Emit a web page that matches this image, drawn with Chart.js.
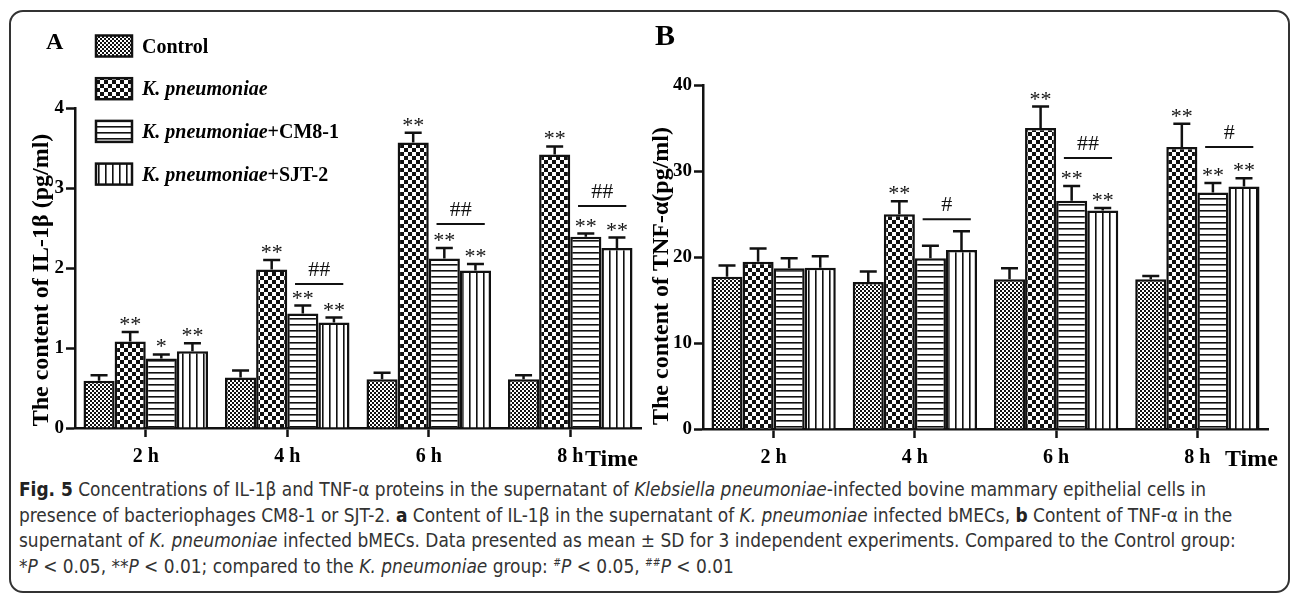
<!DOCTYPE html>
<html>
<head>
<meta charset="utf-8">
<script src="https://cdn.jsdelivr.net/npm/chart.js@4.4.1/dist/chart.umd.min.js"></script>
<style>
html, body { margin: 0; padding: 0; background: #fff; }
#page { position: relative; width: 1293px; height: 598px; overflow: hidden; background: #fff; }
#frame { position: absolute; left: 9px; top: 10px; width: 1281px; height: 583px; border: 2px solid #333; border-radius: 14px; box-sizing: border-box; }
canvas { position: absolute; top: 0; }
#chartA { left: 0; }
#chartB { left: 640px; }
#caption { position: absolute; left: 19px; top: 477px; font-family: "DejaVu Sans Condensed", "Liberation Sans", sans-serif; font-size: 20px; line-height: 25.5px; color: #333; white-space: nowrap; transform-origin: 0 0; }
#caption div { height: 25.5px; }
#caption span { display: inline-block; }
#caption b { color: #222; }
#caption sup { font-size: 11px; line-height: 0; vertical-align: 7px; }
</style>
</head>
<body>
<div id="page">
  <div id="frame"></div>
  <canvas id="chartA" width="645" height="475"></canvas>
  <canvas id="chartB" width="653" height="475"></canvas>
  <div id="caption">
    <div><span id="capLine1"><b>Fig. 5</b> Concentrations of IL-1β and TNF-α proteins in the supernatant of <i>Klebsiella pneumoniae</i>-infected bovine mammary epithelial cells in</span></div>
    <div>presence of bacteriophages CM8-1 or SJT-2. <b>a</b> Content of IL-1β in the supernatant of <i>K. pneumoniae</i> infected bMECs, <b>b</b> Content of TNF-α in the</div>
    <div>supernatant of <i>K. pneumoniae</i> infected bMECs. Data presented as mean ± SD for 3 independent experiments. Compared to the Control group:</div>
    <div>*<i>P</i> &lt; 0.05, **<i>P</i> &lt; 0.01; compared to the <i>K. pneumoniae</i> group: <sup>#</sup><i>P</i> &lt; 0.05, <sup>##</sup><i>P</i> &lt; 0.01</div>
  </div>
</div>
<script>
const timeLabels = ['2 h', '4 h', '6 h', '8 h'];
const groupNames = ['Control', 'K. pneumoniae', 'K. pneumoniae+CM8-1', 'K. pneumoniae+SJT-2'];

// IL-1β (pg/ml)
const il1bControl = [0.59, 0.63, 0.61, 0.61];
const il1bKp      = [1.08, 1.98, 3.57, 3.42];
const il1bCm8     = [0.87, 1.43, 2.12, 2.39];
const il1bSjt     = [0.96, 1.32, 1.97, 2.25];
const il1bControlSd = [0.07, 0.09, 0.08, 0.05];
const il1bKpSd      = [0.12, 0.12, 0.12, 0.10];
const il1bCm8Sd     = [0.05, 0.10, 0.13, 0.04];
const il1bSjtSd     = [0.10, 0.06, 0.08, 0.13];
const il1bStars = [['', '', '', ''], ['**', '**', '**', '**'], ['*', '**', '**', '**'], ['**', '**', '**', '**']];
const il1bHash = ['', '##', '##', '##'];
const il1bHashLevel = [null, 1.8, 2.55, 2.775];

// TNF-α (pg/ml)
const tnfControl = [17.7, 17.1, 17.4, 17.4];
const tnfKp      = [19.45, 24.97, 35.0, 32.8];
const tnfCm8     = [18.7, 19.85, 26.55, 27.5];
const tnfSjt     = [18.75, 20.8, 25.4, 28.2];
const tnfControlSd = [1.3, 1.2, 1.3, 0.4];
const tnfKpSd      = [1.55, 1.5, 2.5, 2.7];
const tnfCm8Sd     = [1.15, 1.45, 1.7, 1.1];
const tnfSjtSd     = [1.35, 2.2, 0.3, 0.95];
const tnfStars = [['', '', '', ''], ['', '**', '**', '**'], ['', '', '**', '**'], ['', '', '**', '**']];
const tnfHash = ['', '#', '##', '#'];
const tnfHashLevel = [null, 24.4, 31.5, 32.8];

const SERIF = '"Liberation Serif", "Times New Roman", serif';
const INK = '#111';

// squeeze the caption so the first line spans the same width as in the figure
const cap = document.getElementById('caption');
const w1 = document.getElementById('capLine1').getBoundingClientRect().width;
cap.style.transform = 'scaleX(' + (1187 / w1) + ')';

function tile(size, draw) {
  const c = document.createElement('canvas');
  c.width = size; c.height = size;
  const g = c.getContext('2d');
  g.fillStyle = '#fff'; g.fillRect(0, 0, size, size);
  g.fillStyle = INK;
  draw(g);
  return c.getContext('2d').createPattern(c, 'repeat');
}
const patterns = [
  tile(4, g => { g.fillRect(2, 0, 2, 2); g.fillRect(0, 2, 2, 2); }),
  tile(8, g => { g.fillRect(0, 0, 4, 4); g.fillRect(4, 4, 4, 4); }),
  tile(6, g => { g.fillRect(0, 0, 6, 1.6); }),
  tile(7, g => { g.fillRect(0, 0, 1.6, 7); })
];

function drawLabel(ctx, text, x, y) {
  const it = 'K. pneumoniae';
  let rest = text;
  ctx.textAlign = 'left';
  if (text.startsWith(it)) {
    ctx.font = 'italic bold 20px ' + SERIF;
    ctx.fillText(it, x, y);
    x += ctx.measureText(it).width;
    rest = text.slice(it.length);
  }
  ctx.font = 'bold 20px ' + SERIF;
  ctx.fillText(rest, x, y);
}

function extras(p) {
  return {
    id: 'extras',
    afterDatasetsDraw(chart) {
      const ctx = chart.ctx, ys = chart.scales.y;
      ctx.save();
      ctx.strokeStyle = INK; ctx.fillStyle = INK;
      ctx.textAlign = 'center'; ctx.textBaseline = 'alphabetic';
      chart.data.datasets.forEach((ds, i) => {
        chart.getDatasetMeta(i).data.forEach((bar, j) => {
          const top = ys.getPixelForValue(p.means[i][j] + p.sd[i][j]);
          ctx.lineWidth = 2.5;
          ctx.beginPath();
          ctx.moveTo(bar.x, bar.y); ctx.lineTo(bar.x, top);
          ctx.moveTo(bar.x - 8.5, top); ctx.lineTo(bar.x + 8.5, top);
          ctx.stroke();
          if (p.stars[i][j]) {
            ctx.font = '22px ' + SERIF;
            ctx.fillText(p.stars[i][j], bar.x, top - 1);
          }
        });
      });
      const m2 = chart.getDatasetMeta(2), m3 = chart.getDatasetMeta(3);
      p.hash.forEach((h, j) => {
        if (!h) return;
        const b2 = m2.data[j], b3 = m3.data[j];
        const yy = ys.getPixelForValue(p.hashLevel[j]);
        const x1 = b2.x - 0.25 * b2.width, x2 = b3.x + 0.3 * b3.width;
        ctx.lineWidth = 2;
        ctx.beginPath(); ctx.moveTo(x1, yy); ctx.lineTo(x2, yy); ctx.stroke();
        ctx.font = '22px ' + SERIF;
        ctx.fillText(h, (x1 + x2) / 2, yy - 8);
      });
      ctx.restore();
    },
    afterDraw(chart) {
      const ctx = chart.ctx, area = chart.chartArea;
      ctx.save();
      ctx.fillStyle = '#000';
      // panel letter
      ctx.font = 'bold ' + p.letterSize + 'px ' + SERIF;
      ctx.textAlign = 'left';
      ctx.fillText(p.letter, p.letterX, p.letterY);
      // x title
      ctx.font = 'bold 24px ' + SERIF;
      ctx.fillText('Time', area.right + p.timeDx, 466);
      // y title
      ctx.save();
      ctx.translate(p.titleX, p.titleY);
      ctx.rotate(-Math.PI / 2);
      ctx.textAlign = 'center';
      ctx.font = 'bold 24px ' + SERIF;
      ctx.fillText(p.yTitle, 0, 0);
      ctx.restore();
      // legend
      if (p.legend) {
        groupNames.forEach((name, i) => {
          const cy = 46 + i * 42.7;
          ctx.fillStyle = patterns[i];
          ctx.fillRect(96, cy - 10.5, 36, 21);
          ctx.strokeStyle = INK; ctx.lineWidth = 2.5;
          ctx.strokeRect(96, cy - 10.5, 36, 21);
          ctx.fillStyle = '#000';
          drawLabel(ctx, name, 142, cy + 6.5);
        });
      }
      ctx.restore();
    }
  };
}

function buildPanel(id, p) {
  const datasets = groupNames.map((name, i) => ({
    label: name,
    data: p.means[i],
    backgroundColor: patterns[i],
    borderColor: INK,
    borderWidth: 2.5,
    borderSkipped: 'bottom',
    categoryPercentage: 0.88,
    barPercentage: 1.0
  }));
  return new Chart(document.getElementById(id).getContext('2d'), {
    type: 'bar',
    data: { labels: timeLabels, datasets },
    options: {
      responsive: false,
      animation: false,
      devicePixelRatio: 1,
      layout: { padding: p.pad },
      plugins: { legend: { display: false }, tooltip: { enabled: false } },
      scales: {
        x: {
          grid: { offset: false, drawOnChartArea: false, tickLength: 9, tickWidth: 2.5, tickColor: INK },
          border: { color: INK, width: 2.5 },
          ticks: { color: '#000', padding: 8, font: { family: SERIF, weight: 'bold', size: 20 } },
          afterFit: s => { s.height = p.xH; }
        },
        y: {
          min: 0, max: p.max,
          grid: { drawOnChartArea: false, tickLength: 9, tickWidth: 2.5, tickColor: INK },
          border: { color: INK, width: 2.5 },
          ticks: { stepSize: p.step, color: '#000', padding: 2, font: { family: SERIF, weight: 'bold', size: 19 } },
          afterFit: s => { s.width = p.yW; }
        }
      }
    },
    plugins: [extras(p)]
  });
}

buildPanel('chartA', {
  means: [il1bControl, il1bKp, il1bCm8, il1bSjt],
  sd: [il1bControlSd, il1bKpSd, il1bCm8Sd, il1bSjtSd],
  stars: il1bStars, hash: il1bHash, hashLevel: il1bHashLevel,
  max: 4, step: 1,
  pad: { left: 0, right: 4, top: 108, bottom: 0 }, yW: 75, xH: 47,
  letter: 'A', letterSize: 24, letterX: 46, letterY: 49,
  timeDx: -56, titleX: 48, titleY: 280,
  yTitle: 'The content of IL-1β (pg/ml)',
  legend: true
});

buildPanel('chartB', {
  means: [tnfControl, tnfKp, tnfCm8, tnfSjt],
  sd: [tnfControlSd, tnfKpSd, tnfCm8Sd, tnfSjtSd],
  stars: tnfStars, hash: tnfHash, hashLevel: tnfHashLevel,
  max: 40, step: 10,
  pad: { left: 0, right: 25, top: 85, bottom: 0 }, yW: 63, xH: 46,
  letter: 'B', letterSize: 30, letterX: 15, letterY: 45,
  timeDx: -43, titleX: 28, titleY: 276,
  yTitle: 'The content of TNF-α(pg/ml)',
  legend: false
});
</script>
</body>
</html>
